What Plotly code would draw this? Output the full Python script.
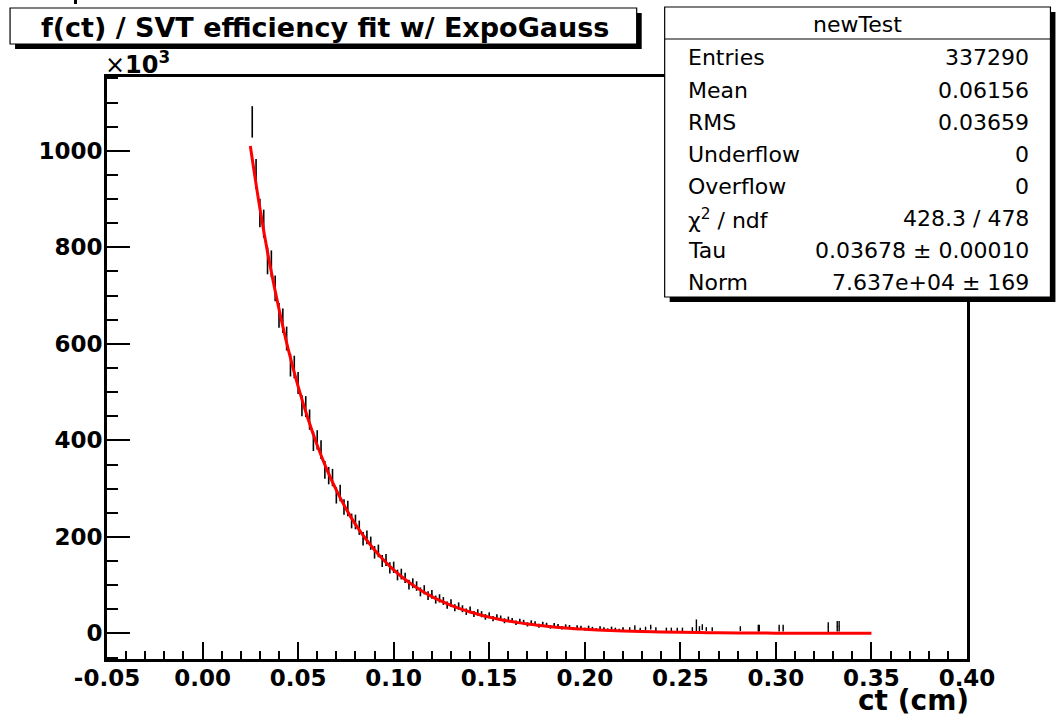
import numpy as np
import plotly.graph_objects as go

# ---- histogram "newTest" : f(ct) in units of 10^3 ----
bin_width = 0.002
first_center = 0.026
counts = [
    1060, 952, 871, 849, 772, 766, 715, 659, 648, 611,
    556, 552, 519, 472, 470, 443, 398, 401, 381, 339,
    327, 323, 286, 291, 262, 259, 233, 231, 219, 196,
    199, 187, 168, 171, 150, 152, 136, 137, 121, 123,
    115, 101, 104, 98.2, 86.1, 90.4, 78.3, 80.9, 70.1, 72.6,
    67.3, 58.7, 62.9, 53.4, 56.8, 51.2, 45.1, 48.6, 40.3, 43.5,
    39.9, 34.2, 37.6, 30.8, 34.1, 31.5, 26.3, 29.4, 27.0, 21.9,
    25.6, 23.3, 18.7, 22.4, 20.8, 15.9, 19.7, 17.8, 13.6, 17.2,
    15.4, 11.8, 14.9, 13.7, 10.1, 13.3, 12.2, 8.9, 12.6, 10.4,
    8.1, 11.5, 9.6, 7.7, 10.8, 8.9, 7.2, 9.8,
]
eff_weight = 1.0  # mean entry weight (10^3) used for the bin errors

# sparsely filled tail bins: centre, content, error
tail_x = [0.2235, 0.2262, 0.2290, 0.2318, 0.2345, 0.2372, 0.2427, 0.2453,
          0.2484, 0.2511, 0.2563, 0.2584, 0.2600, 0.2615, 0.2636, 0.2667,
          0.2814, 0.2908, 0.2913, 0.3017, 0.3038, 0.3274, 0.3321, 0.3331]
tail_v = [9, 12, 8, 10, 13, 9, 8, 8, 8, 8, 9, 17, 10, 13, 9, 9,
          10, 11, 11, 11, 11, 13, 15, 15]
tail_e = [4, 5, 4, 4, 5, 4, 4, 4, 4, 4, 4, 12, 5, 6, 4, 4,
          5, 7, 7, 7, 7, 10, 11, 11]

# fitted exponential (Tau = 0.03678)
fit_x = [0.025, 0.030, 0.035, 0.040, 0.045, 0.050, 0.055, 0.060, 0.065, 0.070,
         0.075, 0.080, 0.085, 0.090, 0.095, 0.100, 0.105, 0.110, 0.115, 0.120,
         0.125, 0.130, 0.135, 0.140, 0.145, 0.150, 0.155, 0.160, 0.165, 0.170,
         0.175, 0.180, 0.185, 0.190, 0.195, 0.200, 0.21, 0.22, 0.23, 0.24,
         0.25, 0.26, 0.27, 0.28, 0.29, 0.30, 0.31, 0.32, 0.33, 0.34, 0.35]
fit_y = [1010, 881, 769, 672, 586, 512, 447, 390, 340, 297,
         259, 226, 198, 173, 151, 131.5, 114.8, 100.2, 87.5, 76.4,
         66.7, 58.2, 50.8, 44.3, 38.7, 33.8, 29.5, 25.7, 22.4, 19.6,
         17.1, 14.9, 13.0, 11.4, 9.9, 8.7, 6.6, 5.0, 3.8, 2.9,
         2.2, 1.7, 1.3, 1.0, 0.75, 0.57, 0.44, 0.33, 0.25, 0.19, 0.15]

x_tickvals = [-0.05, 0.00, 0.05, 0.10, 0.15, 0.20, 0.25, 0.30, 0.35, 0.40]
x_ticktext = ["-0.05", "0.00", "0.05", "0.10", "0.15", "0.20", "0.25", "0.30", "0.35", "0.40"]
y_tickvals = [0, 200, 400, 600, 800, 1000]

title_text = "f(ct) / SVT efficiency fit w/ ExpoGauss"
hist_name = "newTest"
stat_names = ["Entries", "Mean", "RMS", "Underflow", "Overflow",
              "χ<sup>2</sup> / ndf", "Tau", "Norm"]
stat_values = ["337290", "0.06156", "0.03659", "0", "0",
               "428.3 / 478", "0.03678 ± 0.00010", "7.637e+04 ± 169"]

# ---- geometry (pixels) ----
W, H = 1060, 719
L, R, T, B = 107, 967.5, 77, 659


def px(x):
    return (x - L) / (R - L)


def py(y):
    return (B - y) / (B - T)


centers = first_center + bin_width * np.arange(len(counts))
errs = np.sqrt(np.array(counts) * eff_weight)

fig = go.Figure()
fig.add_trace(go.Scatter(
    x=centers, y=counts, mode="markers",
    marker=dict(size=1, color="black"),
    error_y=dict(type="data", array=errs, width=0, thickness=1.6, color="black"),
    hoverinfo="skip"))
fig.add_trace(go.Scatter(
    x=tail_x, y=tail_v, mode="markers",
    marker=dict(size=1, color="black"),
    error_y=dict(type="data", array=tail_e, width=0, thickness=1.4, color="black"),
    hoverinfo="skip"))
fig.add_trace(go.Scatter(
    x=fit_x, y=fit_y, mode="lines",
    line=dict(color="red", width=3, shape="spline"),
    hoverinfo="skip"))

BOLD_TICK = dict(family="DejaVu Sans", size=23, color="black", weight="bold")

fig.update_layout(
    width=W, height=H,
    margin=dict(l=L, r=W - R, t=T, b=H - B, pad=0),
    paper_bgcolor="white", plot_bgcolor="white",
    showlegend=False,
    xaxis=dict(
        range=[-0.05, 0.40], tickvals=x_tickvals, ticktext=x_ticktext,
        ticks="inside", ticklen=17, tickwidth=1.5, tickcolor="black",
        showline=True, linewidth=3, linecolor="black", mirror=True,
        showgrid=False, zeroline=False, tickfont=BOLD_TICK,
        ticklabelstandoff=-4,
        minor=dict(dtick=0.01, tick0=0, ticks="inside", ticklen=8,
                   tickwidth=1.5, tickcolor="black", showgrid=False),
    ),
    yaxis=dict(
        range=[-53, 1153], tickvals=y_tickvals,
        ticks="inside", ticklen=23, tickwidth=1.5, tickcolor="black",
        showline=True, linewidth=3, linecolor="black", mirror=True,
        showgrid=False, zeroline=False, tickfont=BOLD_TICK,
        ticklabelstandoff=-3,
        minor=dict(dtick=50, tick0=0, ticks="inside", ticklen=11,
                   tickwidth=1.5, tickcolor="black", showgrid=False),
    ),
)

shapes = []


def rect(x0, y0, x1, y1, fill, line_w=0, line_c="black"):
    shapes.append(dict(type="rect", xref="paper", yref="paper",
                       x0=px(x0), x1=px(x1), y0=py(y1), y1=py(y0),
                       fillcolor=fill, layer="above",
                       line=dict(width=line_w, color=line_c)))


# title pave with shadow
rect(15, 13, 642, 49, "black")
rect(10, 8, 637, 44, "white", 1.2)
# stats pave with shadow
rect(670, 12, 1056, 302, "black")
rect(665, 7, 1051, 297, "white", 1.2)
shapes.append(dict(type="line", xref="paper", yref="paper",
                   x0=px(665), x1=px(1051), y0=py(39), y1=py(39),
                   layer="above", line=dict(width=1.2, color="black")))
# small mark at the top edge
rect(74, 0, 77, 4, "black")
fig.update_layout(shapes=shapes)

ann = []
ann.append(dict(text=title_text, x=px(325), y=py(27), xref="paper", yref="paper",
                xanchor="center", yanchor="middle", showarrow=False,
                font=dict(family="DejaVu Sans", size=27, color="black", weight="bold")))
ann.append(dict(text=hist_name, x=px(858), y=py(24), xref="paper", yref="paper",
                xanchor="center", yanchor="middle", showarrow=False,
                font=dict(family="DejaVu Sans", size=22, color="black")))
row_y0, row_dy = 58, 32.1
for i, (nm, val) in enumerate(zip(stat_names, stat_values)):
    yy = row_y0 + i * row_dy
    ann.append(dict(text=nm, x=px(686), y=py(yy), xref="paper", yref="paper",
                    xanchor="left", yanchor="middle", showarrow=False,
                    font=dict(family="DejaVu Sans", size=22, color="black")))
    ann.append(dict(text=val, x=px(1032), y=py(yy), xref="paper", yref="paper",
                    xanchor="right", yanchor="middle", showarrow=False,
                    font=dict(family="DejaVu Sans", size=22, color="black")))
# exponent label of the y axis
ann.append(dict(text="×<b>10<sup>3</sup></b>", x=px(103), y=py(63), xref="paper", yref="paper",
                xanchor="left", yanchor="middle", showarrow=False,
                font=dict(family="DejaVu Sans", size=24, color="black")))
# x axis title
ann.append(dict(text="ct (cm)", x=px(972), y=py(700.5), xref="paper", yref="paper",
                xanchor="right", yanchor="middle", showarrow=False,
                font=dict(family="DejaVu Sans", size=28, color="black", weight="bold")))
fig.update_layout(annotations=ann)

fig.write_html("out.html")
